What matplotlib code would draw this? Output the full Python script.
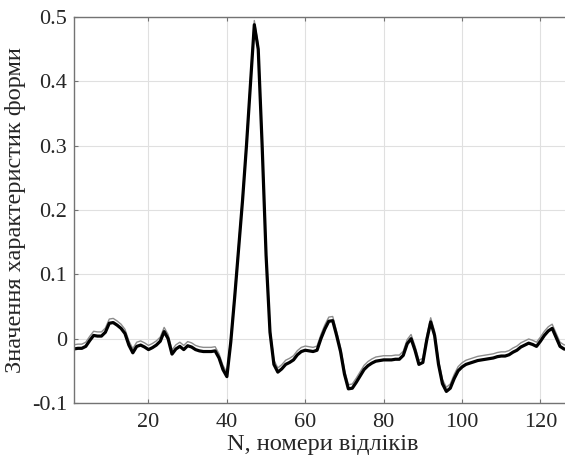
import numpy as np
import matplotlib
matplotlib.use("Agg")
import matplotlib.pyplot as plt
import matplotlib.patheffects as pe

# sample numbers and shape characteristic values
samples = np.arange(1, 129)
values = [
    -0.016, -0.015, -0.015, -0.012, -0.003, 0.005, 0.004, 0.004, 0.010, 0.024,
    0.025, 0.021, 0.016, 0.008, -0.010, -0.022, -0.012, -0.010, -0.013, -0.017,
    -0.014, -0.010, -0.004, 0.011, 0.000, -0.024, -0.016, -0.012, -0.017, -0.011,
    -0.013, -0.017, -0.019, -0.020, -0.020, -0.020, -0.019, -0.030, -0.048, -0.059,
    -0.005, 0.065, 0.140, 0.215, 0.300, 0.395, 0.488, 0.450, 0.300, 0.130,
    0.010, -0.040, -0.052, -0.047, -0.040, -0.037, -0.033, -0.025, -0.020, -0.018,
    -0.019, -0.020, -0.018, 0.000, 0.015, 0.027, 0.028, 0.005, -0.020, -0.055,
    -0.078, -0.077, -0.068, -0.058, -0.048, -0.042, -0.038, -0.035, -0.034, -0.033,
    -0.033, -0.033, -0.032, -0.032, -0.026, -0.008, 0.000, -0.018, -0.040, -0.037,
    -0.002, 0.026, 0.005, -0.040, -0.070, -0.082, -0.077, -0.062, -0.050, -0.044,
    -0.040, -0.038, -0.036, -0.034, -0.033, -0.032, -0.031, -0.030, -0.028, -0.027,
    -0.027, -0.025, -0.021, -0.018, -0.013, -0.010, -0.007, -0.009, -0.012, -0.004,
    0.005, 0.012, 0.016, 0.002, -0.012, -0.016, -0.017, -0.017,
]
x_ticks = [20, 40, 60, 80, 100, 120]
y_ticks = [-0.1, 0, 0.1, 0.2, 0.3, 0.4, 0.5]
y_tick_labels = ["-0.1", "0", "0.1", "0.2", "0.3", "0.4", "0.5"]

plt.rcParams["font.family"] = ["Liberation Serif", "DejaVu Serif"]
text_color = "0.15"

fig = plt.figure(figsize=(5.65, 4.63), dpi=100)
ax = fig.add_axes([0.131, 0.1296, 0.881, 0.8337])

ax.plot(samples, values, color="black", linewidth=2.3, solid_joinstyle="round",
        path_effects=[
            pe.Stroke(offset=(0, 3.0), linewidth=1.0, foreground="0.55"),
            pe.Normal(),
        ])

ax.set_xlim(1, 128)
ax.set_ylim(-0.1, 0.5)
ax.set_xticks(x_ticks)
ax.set_yticks(y_ticks)
ax.set_yticklabels(y_tick_labels)
ax.grid(True, color="0.88", linewidth=0.8)
ax.set_axisbelow(True)

for side in ["left", "bottom", "top"]:
    ax.spines[side].set_color("0.45")
    ax.spines[side].set_linewidth(1.0)
ax.spines["right"].set_visible(False)
ax.tick_params(direction="in", length=3, color="0.45", top=True,
               labelsize=16, labelcolor=text_color)
ax.tick_params(axis="x", pad=7)
ax.tick_params(axis="y", pad=5)

ax.set_xlabel("N, номери відліків", fontsize=17.6, color=text_color, labelpad=2)
ax.set_ylabel("Значення характеристик форми", fontsize=17.6, color=text_color, labelpad=4)

fig.savefig("out.png", dpi=100)
